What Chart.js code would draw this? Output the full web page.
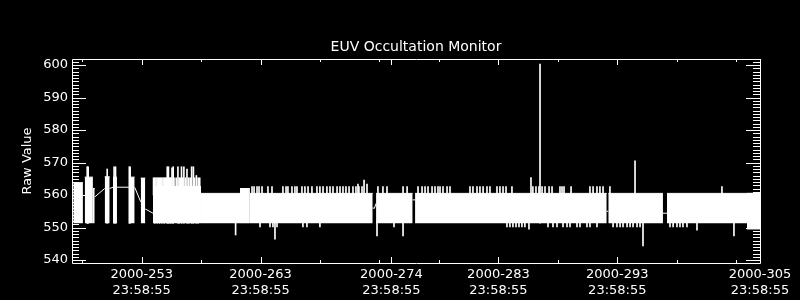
<!DOCTYPE html>
<html>
<head>
<meta charset="utf-8">
<script src="https://cdn.jsdelivr.net/npm/chart.js@4.4.0/dist/chart.umd.min.js"></script>
<style>
html, body { margin: 0; padding: 0; background: #000; }
#wrap { width: 800px; height: 300px; }
</style>
</head>
<body>
<div id="wrap"><canvas id="euv"></canvas></div>
<script>
const FONT = 'DejaVu Sans';

// axis ticks (day of year 2000)
const dayTicks = [253, 263, 274, 283, 293, 305];
const dayMinor = [248, 258, 268, 273, 278, 288, 298, 303];
const valueTicks = [540, 550, 560, 570, 580, 590, 600];

// dense parts of the trace, drawn as solid blocks
const blockStart = [247.25, 248.21, 248.90, 249.89, 250.59, 251.93, 252.92, 253.95, 257.99, 261.27, 262.10, 272.71, 275.99, 292.24, 297.18, 303.90];
const blockEnd   = [248.06, 248.90, 249.05, 250.31, 250.92, 252.41, 253.30, 257.99, 261.27, 262.10, 272.43, 275.79, 292.11, 296.84, 305.00, 305.00];
const blockLow   = [551.3, 551.3, 551.3, 551.3, 551.3, 551.3, 551.3, 551.3, 551.3, 551.3, 551.3, 551.3, 551.3, 551.3, 551.3, 549.4];
const blockHigh  = [563.8, 565.5, 562.0, 565.6, 565.5, 565.5, 565.2, 562.6, 560.5, 562.0, 560.5, 560.5, 560.5, 560.5, 560.5, 560.5];

// thin connecting pieces (null = break)
const traceDay = [249.05, 249.89, 249.89, 250.31, 250.59, 250.59, 250.92, 251.93, 251.93, 252.41, 252.92, 252.92, 253.30, 253.95, 253.95, 272.43, 272.57, 272.71, 272.71, 275.79, 275.99, 275.99, 292.11, 292.24, 292.24, 296.84, 297.18];
const traceVal = [559.4, 562.0, null, 562.0, 562.4, null, 562.4, 562.4, null, 562.4, 557.9, null, 555.7, 554.4, null, 556.0, 555.9, 557.4, null, 558.5, 558.5, null, 555.0, 555.0, null, 554.4, 554.4];

// single excursions
const spikeDay  = [248.42, 248.50, 250.10, 250.68, 250.80, 251.96, 252.03, 254.10, 254.30, 254.50, 254.70, 254.90, 255.15, 255.25, 255.40, 255.55, 255.65, 256.05, 256.15, 256.35, 256.55, 256.81, 256.95, 257.20, 257.35, 257.60, 257.75, 260.90, 264.21, 271.19, 271.70, 271.95, 272.79, 274.98, 285.57, 285.74, 286.50, 294.49, 295.16, 299.70, 302.81];
const spikeLow  = [551.3, 551.3, 551.3, 551.3, 551.3, 551.3, 551.3, 551.3, 551.3, 551.3, 551.3, 551.3, 551.3, 551.3, 551.3, 551.3, 551.3, 551.3, 551.3, 551.3, 551.3, 551.3, 551.3, 551.3, 551.3, 551.3, 551.3, 547.7, 546.4, 558, 558, 558, 547.4, 547.4, 549.5, 558, 551.3, 558, 544.3, 549.2, 547.4];
const spikeHigh = [568.7, 568.7, 568.0, 568.7, 568.7, 568.7, 568.7, 565.3, 565.3, 565.3, 565.3, 565.3, 568.7, 568.7, 565.3, 568.4, 568.7, 568.7, 565.3, 568.7, 568.7, 568.0, 565.3, 568.7, 568.7, 566.0, 565.3, 552, 552, 563.4, 564.6, 563.4, 552, 552, 552, 565.4, 600.3, 570.5, 552, 552, 552];

// extra flicker on the busy stretch after day 254
const busyDay = [254.00, 254.20, 254.40, 254.60, 254.80, 255.00, 255.08, 255.33, 255.48, 255.72, 255.90, 256.25, 256.45, 256.68, 257.08, 257.45, 257.88];
const busyTop = 565.3;

// small flicker above / below the band
const upperDay = [262.28, 262.45, 262.70, 262.87, 263.12, 263.62, 263.96, 264.88, 265.14, 265.30, 265.64, 265.89, 266.06, 266.48, 266.73, 266.99, 267.32, 267.74, 267.99, 268.25, 268.58, 268.84, 269.09, 269.43, 269.68, 269.93, 270.18, 270.44, 270.77, 271.02, 271.27, 271.53, 272.87, 273.29, 273.63, 274.98, 275.32, 276.24, 276.58, 276.83, 277.08, 277.42, 277.67, 277.92, 278.09, 278.34, 278.68, 278.93, 280.61, 280.86, 281.20, 281.45, 281.71, 282.04, 282.29, 282.88, 283.13, 283.39, 283.64, 284.14, 285.90, 286.16, 286.41, 286.67, 286.92, 287.26, 287.51, 288.18, 288.35, 288.52, 289.11, 290.70, 290.96, 291.29, 291.54, 291.80, 292.38, 301.80];
const upperTop = 562.6;
const lowerDay = [262.95, 263.79, 264.04, 264.38, 266.56, 266.90, 267.99, 274.22, 283.72, 283.97, 284.22, 284.48, 284.73, 284.98, 285.23, 287.17, 287.59, 287.93, 288.43, 288.77, 289.02, 289.61, 289.86, 290.45, 290.70, 291.29, 292.64, 292.97, 293.23, 293.48, 293.82, 294.07, 294.32, 294.66, 294.91, 297.43, 297.69, 298.02, 298.27, 298.52, 298.86, 304.16, 304.58];
const lowerBottom = 550.2;

const datasets = [];

blockStart.forEach((s, i) => {
    datasets.push({
        type: 'line',
        data: [{x: s, y: blockHigh[i]}, {x: blockEnd[i], y: blockHigh[i]}],
        fill: {value: blockLow[i]},
        borderColor: '#fff',
        backgroundColor: '#fff',
        borderWidth: 1,
        pointRadius: 0,
    });
});

datasets.push({
    type: 'line',
    data: traceDay.map((d, i) => ({x: d, y: traceVal[i]})),
    borderColor: '#fff',
    borderWidth: 1,
    pointRadius: 0,
    spanGaps: false,
    fill: false,
});

const bars = (days, lo, hi) => ({
    type: 'bar',
    data: days.map((d, i) => ({x: d, y: [Array.isArray(lo) ? lo[i] : lo, Array.isArray(hi) ? hi[i] : hi]})),
    backgroundColor: '#fff',
    borderWidth: 0,
    barThickness: 1,
    grouped: false,
});

datasets.push(bars(spikeDay, spikeLow, spikeHigh));
datasets.push(bars(busyDay, 560, busyTop));
datasets.push(bars(upperDay, 559.5, upperTop));
datasets.push(bars(lowerDay, lowerBottom, 552));

// IDL style frame with inward ticks on all four sides
const frameTicks = {
    id: 'frameTicks',
    afterDatasetsDraw(chart) {
        const {ctx, chartArea: a, scales: {x, y}} = chart;
        ctx.save();
        ctx.strokeStyle = '#fff';
        ctx.lineWidth = 1;
        ctx.beginPath();
        ctx.rect(a.left + 0.5, a.top + 0.5, a.right - a.left, a.bottom - a.top);

        const xt = (v, len) => {
            const px = Math.round(x.getPixelForValue(v)) + 0.5;
            ctx.moveTo(px, a.bottom); ctx.lineTo(px, a.bottom - len);
            ctx.moveTo(px, a.top); ctx.lineTo(px, a.top + len);
        };
        const yt = (v, len) => {
            const py = Math.round(y.getPixelForValue(v)) + 0.5;
            ctx.moveTo(a.left, py); ctx.lineTo(a.left + len, py);
            ctx.moveTo(a.right, py); ctx.lineTo(a.right - len, py);
        };
        dayTicks.forEach(v => xt(v, 6));
        dayMinor.forEach(v => xt(v, 3));
        for (let v = Math.ceil(y.min); v <= Math.floor(y.max); v++) {
            yt(v, valueTicks.includes(v) ? 14 : 7);
        }
        ctx.stroke();
        ctx.restore();
    }
};

new Chart(document.getElementById('euv'), {
    type: 'line',
    data: {datasets: datasets},
    plugins: [frameTicks],
    options: {
        responsive: true,
        maintainAspectRatio: false,
        animation: false,
        layout: {padding: {left: 0, right: 40, top: 0, bottom: 0}},
        plugins: {
            legend: {display: false},
            tooltip: {enabled: false},
            title: {
                display: true,
                text: 'EUV Occultation Monitor',
                color: '#fff',
                fullSize: false,
                font: {family: FONT, size: 14, weight: 'normal'},
                padding: {top: 39, bottom: 3.2},
            },
        },
        scales: {
            x: {
                type: 'linear',
                min: 247.14,
                max: 305,
                offset: false,
                grid: {display: false, drawTicks: false},
                border: {display: false},
                afterBuildTicks: s => { s.ticks = dayTicks.map(v => ({value: v})); },
                afterFit: s => { s.height = 37; },
                ticks: {
                    color: '#fff',
                    font: {family: FONT, size: 13},
                    padding: 4,
                    maxRotation: 0,
                    autoSkip: false,
                    callback: v => ['2000-' + v, '23:58:55'],
                },
            },
            y: {
                min: 539.08,
                max: 601.85,
                grid: {display: false, drawTicks: false},
                border: {display: false},
                afterBuildTicks: s => { s.ticks = valueTicks.map(v => ({value: v})); },
                afterFit: s => { s.width = 72; },
                ticks: {
                    color: '#fff',
                    font: {family: FONT, size: 13},
                    padding: 4,
                },
                title: {
                    display: true,
                    text: 'Raw Value',
                    color: '#fff',
                    font: {family: FONT, size: 13},
                    padding: {top: 20, bottom: 0},
                },
            },
        },
    },
});
</script>
</body>
</html>
